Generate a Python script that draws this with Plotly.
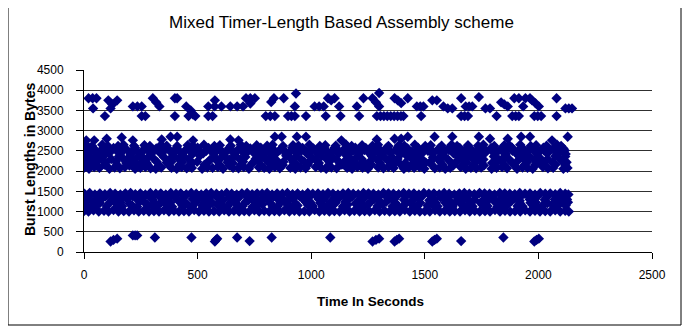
import plotly.graph_objects as go

# ---- data: (time in seconds, burst length in bytes) ----
low_band = [(117,260),(130,300),(146,330),(215,410),(225,410),(234,410),(312,360),(473,360),
            (576,260),(581,300),(586,330),(674,360),(729,270),(826,360),(1084,360),(1270,260),
            (1285,300),(1299,330),(1367,260),(1377,300),(1387,330),(1533,260),(1543,300),(1553,330),
            (1660,270),(1846,360),(1982,260),(1992,300),(2002,330)]

mid_bottom = [(0,1010),(20,1000),(42,1030),(65,1000),(88,1020),(108,1000),(130,1040),(152,1000),(175,1010),(198,1000),
              (220,1030),(241,1000),(263,1020),(286,1000),(308,1010),(330,1000),(352,1030),(374,1000),(396,1020),(418,1000),
              (440,1010),(462,1000),(485,1040),(506,1000),(528,1020),(550,1000),(572,1010),(595,1000),(617,1030),(638,1000),
              (660,1020),(683,1000),(705,1010),(727,1000),(750,1030),(771,1000),(793,1020),(815,1000),(838,1010),(860,1000),
              (882,1030),(904,1000),(926,1020),(948,1000),(970,1010),(992,1000),(1015,1040),(1036,1000),(1058,1020),(1080,1000),
              (1102,1010),(1125,1000),(1147,1030),(1169,1000),(1190,1020),(1213,1000),(1235,1010),(1257,1000),(1280,1030),(1301,1000),
              (1323,1020),(1345,1000),(1368,1010),(1390,1000),(1412,1040),(1434,1000),(1456,1020),(1478,1000),(1500,1010),(1522,1000),
              (1545,1030),(1566,1000),(1588,1020),(1610,1000),(1632,1010),(1655,1000),(1677,1030),(1698,1000),(1720,1020),(1742,1000),
              (1765,1010),(1787,1000),(1809,1040),(1831,1000),(1853,1020),(1875,1000),(1897,1010),(1920,1000),(1942,1030),(1963,1000),
              (1985,1020),(2007,1000),(2030,1010),(2052,1000),(2074,1030),(2096,1000),(2118,1020),(2134,1000)]

mid_inner = [(10,1150),(32,1120),(55,1170),(100,1140),(145,1180),(168,1130),(212,1150),(234,1120),(278,1170),(300,1150),
             (322,1130),(366,1160),(388,1120),(433,1150),(455,1180),(477,1130),(520,1150),(543,1120),(587,1170),(610,1150),
             (632,1130),(676,1160),(698,1140),(742,1120),(765,1150),(786,1180),(830,1140),(852,1130),(897,1160),(918,1120),
             (940,1150),(985,1170),(1007,1140),(1050,1120),(1072,1160),(1095,1150),(1140,1130),(1160,1170),(1205,1150),(1226,1120),
             (1248,1160),(1292,1140),(1314,1180),(1358,1130),(1380,1150),(1403,1120),(1446,1160),(1468,1140),(1512,1150),(1534,1180),
             (1556,1130),(1600,1150),(1622,1120),(1666,1170),(1688,1150),(1710,1130),(1754,1160),(1776,1140),(1820,1120),(1842,1150),
             (1864,1180),(1908,1140),(1930,1130),(1974,1160),(1996,1120),(2018,1150),(2062,1170),(2084,1140),(2120,1150),
             (5,1220),(38,1240),(70,1210),(115,1230),(160,1220),(200,1200),(245,1240),(268,1220),(312,1210),(340,1230),
             (380,1220),(420,1240),(445,1200),(490,1220),(530,1230),(565,1210),(600,1240),(645,1220),(668,1200),(710,1230),
             (755,1220),(775,1240),(820,1210),(865,1220),(888,1230),(930,1200),(975,1240),(998,1220),(1040,1210),(1085,1230),
             (1108,1220),(1150,1240),(1195,1200),(1218,1220),(1260,1230),(1305,1210),(1330,1240),(1370,1220),(1415,1200),(1438,1230),
             (1480,1220),(1525,1240),(1548,1210),(1590,1220),(1635,1230),(1658,1200),(1700,1240),(1745,1220),(1768,1210),(1810,1230),
             (1855,1220),(1878,1240),(1920,1200),(1965,1220),(1988,1230),(2040,1210),(2075,1240),(2105,1220),(2130,1230),
             (14,1300),(58,1280),(80,1320),(124,1300),(146,1270),(190,1310),(236,1290),(258,1330),(302,1300),(346,1280),
             (368,1320),(412,1300),(434,1270),(478,1310),(500,1290),(545,1300),(590,1330),(612,1280),(656,1300),(678,1320),
             (722,1270),(744,1300),(788,1310),(810,1290),(855,1300),(900,1280),(922,1320),(966,1300),(988,1270),(1032,1310),
             (1054,1300),(1098,1290),(1120,1330),(1165,1300),(1210,1280),(1232,1320),(1276,1300),(1298,1270),(1342,1310),(1364,1300),
             (1408,1290),(1452,1300),(1476,1330),(1520,1280),(1542,1300),(1586,1320),(1608,1270),(1652,1300),(1674,1310),(1718,1290),
             (1762,1300),(1786,1330),(1830,1280),(1852,1300),(1896,1320),(1918,1270),(1962,1300),(1984,1310),(2028,1290),(2072,1300),
             (2094,1330),(2126,1300),
             (20,1370),(62,1360),(95,1380),(135,1370),(175,1350),(215,1380),(250,1370),(290,1360),(330,1390),(372,1370),
             (400,1350),(445,1380),(485,1370),(522,1360),(560,1390),(598,1370),(640,1350),(680,1380),(715,1370),(755,1360),
             (795,1390),(835,1370),(870,1350),(910,1380),(950,1370),(990,1360),(1025,1390),(1065,1370),(1105,1350),(1145,1380),
             (1180,1370),(1220,1360),(1260,1390),(1300,1370),(1335,1350),(1375,1380),(1415,1370),(1455,1360),(1490,1390),(1530,1370),
             (1570,1350),(1610,1380),(1645,1370),(1685,1360),(1725,1390),(1765,1370),(1800,1350),(1840,1380),(1880,1370),(1920,1360),
             (1955,1390),(1995,1370),(2035,1350),(2075,1380),(2110,1370)]

mid_top = [(2,1440),(25,1460),(48,1420),(70,1450),(92,1430),(115,1460),(137,1440),(160,1420),(182,1450),(205,1460),
           (226,1430),(248,1450),(270,1420),(292,1460),(316,1440),(338,1450),(360,1420),(382,1460),(405,1440),(426,1450),
           (450,1430),(472,1460),(494,1440),(516,1420),(538,1450),(560,1460),(583,1440),(606,1430),(628,1460),(650,1440),
           (672,1420),(695,1450),(718,1460),(740,1430),(762,1450),(784,1440),(806,1460),(828,1420),(850,1450),(873,1440),
           (895,1460),(918,1430),(940,1450),(962,1420),(985,1460),(1007,1440),(1030,1450),(1052,1430),(1074,1460),(1096,1440),
           (1118,1420),(1140,1450),(1163,1460),(1185,1440),(1207,1430),(1230,1460),(1252,1450),(1274,1440),(1296,1420),(1318,1460),
           (1340,1450),(1362,1440),(1385,1430),(1407,1460),(1430,1440),(1452,1450),(1474,1420),(1496,1460),(1518,1440),(1540,1450),
           (1563,1430),(1585,1460),(1607,1440),(1630,1420),(1652,1450),(1674,1460),(1696,1440),(1718,1430),(1741,1460),(1763,1450),
           (1785,1440),(1807,1420),(1830,1460),(1852,1450),(1874,1440),(1896,1430),(1918,1460),(1941,1440),(1963,1450),(1985,1420),
           (2008,1460),(2030,1440),(2052,1450),(2074,1430),(2096,1460),(2118,1440),(2132,1420)]

high_lower = [(0,2080),(22,2060),(45,2100),(68,2080),(112,2060),(135,2090),(158,2070),(180,2100),(225,2060),(248,2080),
              (270,2100),(293,2070),(316,2060),(340,2090),(385,2080),(408,2060),(430,2100),(452,2070),(475,2080),(520,2060),
              (543,2090),(566,2080),(589,2100),(612,2060),(656,2080),(680,2070),(703,2100),(726,2060),(770,2090),(793,2080),
              (816,2060),(840,2100),(862,2070),(908,2080),(930,2060),(953,2090),(976,2070),(1020,2100),(1043,2080),(1066,2060),
              (1089,2090),(1112,2070),(1158,2080),(1180,2060),(1203,2100),(1226,2080),(1250,2060),(1295,2090),(1318,2070),(1340,2100),
              (1363,2080),(1408,2060),(1430,2090),(1453,2080),(1476,2100),(1498,2060),(1544,2070),(1566,2090),(1590,2060),(1612,2080),
              (1658,2100),(1680,2060),(1703,2080),(1726,2070),(1748,2090),(1794,2060),(1816,2080),(1840,2100),(1862,2070),(1906,2060),
              (1930,2090),(1952,2080),(1975,2060),(2020,2100),(2042,2070),(2065,2080),(2110,2060),(2128,2080),
              (12,2150),(56,2140),(90,2160),(145,2150),(200,2140),(236,2160),(280,2150),(330,2140),(372,2160),(420,2150),
              (465,2140),(530,2160),(598,2150),(640,2140),(690,2160),(735,2150),(780,2140),(830,2160),(875,2150),(940,2140),
              (985,2160),(1030,2150),(1075,2140),(1135,2160),(1170,2150),(1215,2140),(1265,2160),(1308,2150),(1352,2140),(1395,2160),
              (1442,2150),(1486,2140),(1530,2160),(1578,2150),(1625,2140),(1670,2160),(1715,2150),(1760,2140),(1806,2160),(1850,2150),
              (1895,2140),(1940,2160),(1985,2150),(2030,2140),(2075,2160),(2118,2150),
              (8,2220),(30,2200),(52,2240),(96,2210),(140,2230),(186,2200),(208,2240),(254,2220),(276,2200),(320,2230),
              (364,2210),(386,2240),(432,2220),(476,2200),(498,2230),(544,2210),(588,2240),(632,2220),(654,2200),(700,2230),
              (744,2210),(766,2240),(812,2220),(856,2200),(878,2230),(922,2210),(968,2240),(990,2220),(1034,2200),(1080,2230),
              (1124,2210),(1146,2240),(1192,2220),(1236,2200),(1258,2230),(1302,2210),(1346,2240),(1370,2220),(1414,2200),(1460,2230),
              (1504,2210),(1526,2240),(1570,2220),(1616,2200),(1638,2230),(1684,2210),(1728,2240),(1750,2220),(1796,2200),(1840,2230),
              (1884,2210),(1906,2240),(1950,2220),(1996,2200),(2018,2230),(2062,2210),(2106,2240),(2124,2220),
              (20,2290),(66,2280),(120,2300),(176,2290),(220,2280),(265,2300),(310,2290),(375,2280),(418,2300),(462,2290),
              (555,2280),(598,2300),(642,2290),(688,2280),(755,2300),(800,2290),(845,2280),(912,2300),(956,2290),(1020,2280),
              (1068,2300),(1112,2290),(1178,2280),(1222,2300),(1290,2290),(1334,2280),(1380,2300),(1446,2290),(1490,2280),(1558,2300),
              (1602,2290),(1668,2280),(1712,2300),(1758,2290),(1826,2280),(1870,2300),(1936,2290),(1982,2280),(2040,2300),(2096,2290)]

high_upper = [(0,2360),(44,2340),(88,2380),(154,2360),(198,2340),(242,2380),(286,2360),(352,2340),(396,2370),(440,2360),
              (510,2380),(576,2340),(620,2360),(666,2380),(710,2350),(778,2360),(822,2340),(890,2380),(934,2360),(1000,2340),
              (1046,2370),(1090,2360),(1156,2380),(1200,2340),(1268,2360),(1312,2380),(1356,2340),(1424,2360),(1468,2370),(1536,2340),
              (1580,2380),(1646,2360),(1690,2340),(1736,2380),(1804,2360),(1848,2340),(1914,2380),(1960,2360),(2004,2340),(2074,2370),
              (2118,2360),
              (15,2430),(60,2420),(110,2440),(160,2430),(205,2420),(250,2440),(296,2430),(342,2420),(388,2440),(432,2430),
              (478,2420),(525,2440),(570,2430),(615,2420),(660,2440),(706,2430),(752,2420),(798,2440),(844,2430),(890,2420),
              (935,2440),(982,2430),(1028,2420),(1074,2440),(1120,2430),(1166,2420),(1212,2440),(1258,2430),(1304,2420),(1350,2440),
              (1396,2430),(1442,2420),(1488,2440),(1534,2430),(1580,2420),(1626,2440),(1672,2430),(1718,2420),(1764,2440),(1810,2430),
              (1856,2420),(1902,2440),(1948,2430),(1994,2420),(2040,2440),(2086,2430),(2120,2420),
              (4,2500),(26,2480),(50,2520),(74,2500),(98,2480),(120,2520),(144,2500),(166,2490),(190,2520),(214,2500),
              (236,2480),(260,2510),(284,2500),(306,2520),(330,2480),(352,2500),(376,2520),(400,2500),(422,2480),(446,2510),
              (468,2500),(492,2520),(514,2480),(538,2500),(562,2520),(584,2500),(608,2480),(630,2510),(654,2500),(678,2520),
              (700,2480),(724,2500),(746,2520),(770,2500),(794,2480),(816,2510),(840,2500),(862,2520),(886,2480),(910,2500),
              (932,2520),(956,2500),(980,2480),(1002,2510),(1026,2500),(1048,2520),(1072,2480),(1096,2500),(1118,2520),(1142,2500),
              (1164,2480),(1188,2510),(1212,2500),(1234,2520),(1258,2480),(1282,2500),(1304,2520),(1328,2500),(1350,2480),(1374,2510),
              (1398,2500),(1420,2520),(1444,2480),(1468,2500),(1490,2520),(1514,2500),(1536,2480),(1560,2510),(1584,2500),(1606,2520),
              (1630,2480),(1654,2500),(1676,2520),(1700,2500),(1722,2480),(1746,2510),(1770,2500),(1792,2520),(1816,2480),(1840,2500),
              (1862,2520),(1886,2500),(1908,2480),(1932,2510),(1956,2500),(1978,2520),(2002,2480),(2026,2500),(2048,2520),(2072,2500),
              (2094,2480),(2116,2510),
              (2,2570),(40,2560),(86,2580),(130,2570),(178,2560),(225,2580),(270,2570),(318,2560),(362,2580),(408,2570),
              (455,2560),(500,2580),(548,2570),(594,2560),(640,2580),(686,2570),(732,2560),(778,2580),(824,2570),(870,2560),
              (916,2580),(962,2570),(1010,2560),(1056,2580),(1102,2570),(1148,2560),(1194,2580),(1240,2570),(1286,2560),(1332,2580),
              (1378,2570),(1424,2560),(1470,2580),(1516,2570),(1562,2560),(1608,2580),(1654,2570),(1700,2560),(1746,2580),(1792,2570),
              (1838,2560),(1884,2580),(1930,2570),(1976,2560),(2022,2580),(2068,2570),(2110,2560),
              (12,2640),(36,2620),(80,2650),(104,2630),(150,2620),(174,2650),(220,2630),(266,2640),(290,2620),(340,2650),
              (364,2630),(410,2620),(456,2640),(480,2630),(528,2650),(574,2620),(598,2640),(646,2630),(690,2650),(714,2620),
              (760,2640),(806,2630),(830,2650),(876,2620),(920,2640),(944,2630),(992,2650),(1038,2620),(1062,2640),(1108,2630),
              (1154,2650),(1178,2620),(1224,2640),(1270,2630),(1294,2650),(1340,2620),(1386,2640),(1410,2630),(1456,2650),(1502,2620),
              (1526,2640),(1574,2630),(1618,2650),(1642,2620),(1690,2640),(1734,2630),(1758,2650),(1806,2620),(1850,2640),(1874,2630),
              (1920,2650),(1966,2620),(1990,2640),(2036,2630),(2082,2650),(2100,2620),
              (10,2760),(45,2760),(100,2800),(166,2830),(215,2760),(342,2780),(381,2850),(410,2850),(480,2760),(644,2780),
              (680,2760),(840,2850),(870,2850),(937,2850),(977,2850),(1133,2760),(1289,2780),(1367,2800),(1396,2800),(1425,2850),
              (1543,2850),(1621,2850),(1738,2850),(1787,2800),(1865,2800),(1924,2850),(1963,2850),(2060,2760),(2129,2850)]

top_band = [(20,3800),(38,3800),(55,3800),(40,3550),(92,3360),(107,3750),(125,3650),(146,3750),(117,3550),(215,3600),
            (235,3600),(254,3600),(254,3360),(270,3360),(303,3800),(318,3700),(332,3600),(400,3800),(410,3800),(400,3360),
            (450,3600),(470,3500),(480,3400),(460,3360),(490,3360),(547,3360),(566,3360),(547,3600),(575,3600),(605,3600),
            (576,3750),(644,3600),(674,3600),(700,3600),(713,3800),(732,3800),(752,3800),(732,3670),(800,3360),(820,3360),
            (840,3360),(824,3710),(836,3800),(879,3800),(898,3360),(913,3360),(928,3360),(933,3920),(928,3600),(977,3360),
            (1015,3600),(1035,3600),(1055,3600),(1064,3360),(1074,3800),(1088,3750),(1103,3800),(1123,3600),(1129,3360),(1201,3600),
            (1211,3360),(1230,3800),(1270,3800),(1285,3700),(1299,3600),(1299,3930),(1289,3360),(1305,3360),(1320,3360),(1335,3360),
            (1350,3360),(1365,3360),(1380,3360),(1395,3360),(1406,3360),(1367,3800),(1381,3750),(1396,3680),(1425,3800),(1465,3600),
            (1480,3600),(1494,3600),(1484,3360),(1533,3750),(1553,3750),(1582,3600),(1601,3550),(1621,3550),(1660,3800),(1660,3360),
            (1675,3360),(1690,3360),(1680,3600),(1695,3600),(1709,3600),(1738,3830),(1767,3550),(1787,3550),(1816,3360),(1836,3700),
            (1850,3650),(1865,3600),(1885,3360),(1900,3360),(1914,3360),(1894,3800),(1914,3800),(1933,3600),(1943,3800),(1963,3800),
            (1972,3750),(1987,3680),(2002,3600),(1982,3360),(1997,3360),(2012,3360),(2080,3800),(2080,3360),(2119,3550),(2134,3550),
            (2148,3550)]

x_ticks = [0, 500, 1000, 1500, 2000, 2500]
y_ticks = [0, 500, 1000, 1500, 2000, 2500, 3000, 3500, 4000, 4500]
grid_levels = [500, 1000, 1500, 2000, 2500, 3000, 3500, 4000]

title_text = "Mixed Timer-Length Based Assembly scheme"
x_title = "Time In Seconds"
y_title = "Burst Lengths in Bytes"

all_points = low_band + mid_bottom + mid_inner + mid_top + high_lower + high_upper + top_band
time_s = [p[0] for p in all_points]
burst = [p[1] for p in all_points]

FONT = "Liberation Sans, Arial, sans-serif"
NARROW = "Liberation Sans Narrow, Arial Narrow, Liberation Sans, Arial, sans-serif"

# page body has an 8px margin; plot area should land at x 84..652, y 70..252 on screen
ML, MT = 76, 62
PW, PH = 568, 182
W, H = 690, 331

def px(xs):
    return (xs - 8 - ML) / PW

def py(ys):
    return (MT + PH - (ys - 8)) / PH

fig = go.Figure()
fig.add_trace(go.Scatter(x=[None], y=[None], yaxis="y2", showlegend=False, hoverinfo="skip"))
fig.add_trace(go.Scatter(
    x=time_s, y=burst, mode="markers",
    marker=dict(symbol="diamond", size=8, color="#000080", line=dict(width=0)),
    showlegend=False,
))

fig.update_layout(
    width=W, height=H,
    margin=dict(l=ML, r=W - ML - PW, t=MT, b=H - MT - PH),
    paper_bgcolor="white", plot_bgcolor="white",
    font=dict(family=FONT, color="black"),
    xaxis=dict(range=[0, 2500], tickvals=x_ticks, ticktext=[str(v) for v in x_ticks],
               showgrid=False, zeroline=False, showline=True, linecolor="black", linewidth=1,
               ticks="outside", ticklen=6, tickcolor="black", tickwidth=1,
               ticklabelstandoff=6,
               tickfont=dict(family=NARROW, size=12, color="black")),
    yaxis=dict(range=[0, 4500], tickvals=y_ticks, ticktext=[str(v) for v in y_ticks],
               showgrid=False, zeroline=False, showline=True, linecolor="black", linewidth=1,
               ticks="outside", ticklen=7, tickcolor="black", tickwidth=1,
               ticklabelstandoff=10,
               tickfont=dict(family=NARROW, size=12, color="black")),
    yaxis2=dict(range=[0, 4500], overlaying="y", side="left", tickvals=grid_levels,
                showticklabels=False, showgrid=True, gridcolor="#303030", gridwidth=1,
                zeroline=False, showline=False, ticks=""),
    annotations=[
        dict(text=title_text, xref="paper", yref="paper",
             x=px(341), y=py(22), showarrow=False,
             xanchor="center", yanchor="middle", font=dict(family=FONT, size=17, color="black")),
        dict(text="<b>" + y_title + "</b>", xref="paper", yref="paper",
             x=px(30), y=py(160), textangle=-90, showarrow=False,
             xanchor="center", yanchor="middle", font=dict(family=FONT, size=14, color="black")),
        dict(text="<b>" + x_title + "</b>", xref="paper", yref="paper",
             x=px(370), y=py(301), showarrow=False,
             xanchor="center", yanchor="middle", font=dict(family=FONT, size=13.5, color="black")),
    ],
    shapes=[dict(type="rect", xref="paper", yref="paper",
                 x0=px(8), x1=px(681), y0=py(325), y1=py(-2),
                 line=dict(color="black", width=1), fillcolor="rgba(0,0,0,0)", layer="below")],
)

fig.write_html("out.html")
